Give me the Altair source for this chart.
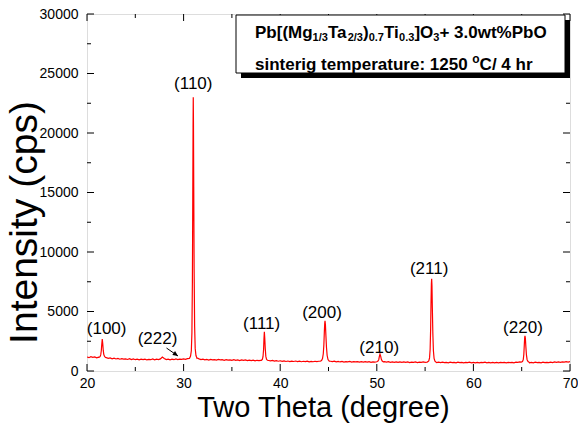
import altair as alt
import pandas as pd

# ---------------------------------------------------------------
# XRD pattern of Pb[(Mg1/3Ta2/3)0.7Ti0.3]O3 + 3.0wt% PbO
# ---------------------------------------------------------------

# background counts, sampled every 0.2 degree from 20.0 to 70.0
baseline_start = 20.0
baseline_step = 0.2
baseline_counts = [
    1180, 1120, 1210, 1150, 1190, 1110, 1170, 1130, 1140, 1090,   # 20
    1120, 1060, 1100, 1030, 1080, 1010, 1060, 990, 1040, 1000,    # 22
    1020, 970, 1040, 960, 1010, 950, 1000, 940, 990, 960,         # 24
    1000, 930, 980, 950, 1010, 940, 990, 960, 1020, 1180,         # 26
    1060, 960, 1000, 940, 990, 950, 1010, 960, 1000, 970,         # 28
    1010, 980, 1040, 1060, 1100, 1200, 1200, 1100, 1020, 960,     # 30
    990, 930, 970, 920, 980, 940, 960, 910, 970, 930,             # 32
    950, 900, 960, 910, 940, 890, 950, 900, 930, 880,             # 34
    940, 890, 930, 870, 920, 880, 910, 860, 900, 870,             # 36
    900, 860, 900, 880, 880, 850, 890, 830, 870, 820,             # 38
    860, 810, 850, 800, 840, 790, 830, 800, 840, 790,             # 40
    830, 780, 820, 790, 830, 770, 810, 780, 820, 790,             # 42
    820, 780, 800, 800, 800, 800, 820, 790, 830, 770,             # 44
    810, 760, 800, 750, 790, 770, 800, 750, 790, 760,             # 46
    790, 740, 780, 750, 790, 740, 780, 730, 770, 740,             # 48
    780, 740, 800, 790, 780, 750, 780, 730, 770, 720,             # 50
    770, 720, 760, 730, 770, 720, 760, 710, 750, 720,             # 52
    760, 710, 750, 720, 760, 720, 750, 730, 760, 760,             # 54
    740, 700, 750, 710, 740, 700, 730, 690, 740, 700,             # 56
    730, 690, 740, 700, 730, 680, 720, 700, 740, 690,             # 58
    730, 690, 720, 680, 730, 700, 740, 690, 720, 680,             # 60
    720, 680, 730, 690, 720, 700, 730, 680, 720, 700,             # 62
    730, 690, 740, 720, 760, 740, 740, 700, 740, 690,             # 64
    730, 690, 740, 700, 730, 690, 740, 700, 730, 700,             # 66
    750, 710, 760, 720, 760, 730, 770, 740, 780, 750,             # 68
    790,                                                          # 70
]

# reflection profiles
peak_100_theta = [21.25, 21.35, 21.42, 21.48, 21.53, 21.58, 21.63, 21.68, 21.74, 21.82, 21.92]
peak_100_counts = [1150, 1200, 1350, 1700, 2250, 2680, 2300, 1750, 1380, 1220, 1130]

peak_110_theta = [30.62, 30.72, 30.80, 30.86, 30.91, 30.95, 30.98, 31.00, 31.02, 31.05,
                  31.09, 31.14, 31.20, 31.28, 31.38]
peak_110_counts = [1080, 1250, 1700, 3200, 7500, 14500, 20500, 23000, 21000, 15500,
                   8500, 3800, 1900, 1300, 1080]

peak_111_theta = [38.05, 38.15, 38.22, 38.28, 38.32, 38.36, 38.40, 38.45, 38.51, 38.58, 38.68]
peak_111_counts = [900, 980, 1200, 1800, 2700, 3300, 2800, 1900, 1250, 990, 900]

peak_200_theta = [44.15, 44.28, 44.38, 44.46, 44.52, 44.57, 44.61, 44.64, 44.68, 44.73,
                  44.79, 44.86, 44.95, 45.08]
peak_200_counts = [820, 880, 1050, 1450, 2200, 3300, 4000, 4220, 3900, 3000,
                   2000, 1300, 960, 830]

peak_210_theta = [50.00, 50.12, 50.20, 50.26, 50.33, 50.40, 50.47, 50.56, 50.68]
peak_210_counts = [780, 830, 950, 1200, 1420, 1250, 980, 830, 770]

peak_211_theta = [55.25, 55.38, 55.46, 55.52, 55.57, 55.61, 55.65, 55.68, 55.71, 55.75,
                  55.80, 55.86, 55.93, 56.02, 56.12]
peak_211_counts = [760, 850, 1100, 1800, 3400, 5600, 7300, 7750, 7200, 5300,
                   3200, 1700, 1050, 820, 750]

peak_220_theta = [64.95, 65.08, 65.16, 65.22, 65.27, 65.31, 65.34, 65.38, 65.43, 65.49,
                  65.56, 65.66, 65.78]
peak_220_counts = [740, 800, 950, 1400, 2200, 2800, 2950, 2750, 2050, 1350,
                   950, 790, 730]

# Miller-index annotations
hkl_text = ["(100)", "(222)", "(110)", "(111)", "(200)", "(210)", "(211)", "(220)"]
hkl_theta = [22.03, 27.30, 31.00, 38.08, 44.33, 50.25, 55.42, 65.13]
hkl_counts = [3570, 2690, 24090, 3970, 4910, 1970, 8580, 3650]

# arrow from the (222) label to its weak reflection
arrow_theta = [28.23, 29.42]
arrow_counts = [1930, 1260]

# axis ticks
x_major = [20, 30, 40, 50, 60, 70]
x_minor = [25, 35, 45, 55, 65]
y_major = [0, 5000, 10000, 15000, 20000, 25000, 30000]
y_minor = [2500, 7500, 12500, 17500, 22500, 27500]

# ---------------------------------------------------------------
peaks = [
    (peak_100_theta, peak_100_counts),
    (peak_110_theta, peak_110_counts),
    (peak_111_theta, peak_111_counts),
    (peak_200_theta, peak_200_counts),
    (peak_210_theta, peak_210_counts),
    (peak_211_theta, peak_211_counts),
    (peak_220_theta, peak_220_counts),
]

rows = []
for i, c in enumerate(baseline_counts):
    t = round(baseline_start + i * baseline_step, 2)
    if any(min(pt) <= t <= max(pt) for pt, _ in peaks):
        continue
    rows.append((t, c))
for pt, pc in peaks:
    rows.extend(zip(pt, pc))
pattern = pd.DataFrame(sorted(rows), columns=["theta", "counts"])

W, H = 483, 357
FONT = "Liberation Sans"

xs = alt.Scale(domain=[20, 70], nice=False, zero=False)
ys = alt.Scale(domain=[0, 30000], nice=False)

X = alt.X("theta:Q", scale=xs)
Y = alt.Y("counts:Q", scale=ys)

line = alt.Chart(pattern).mark_line(color="#ff0000", strokeWidth=1.2, clip=True).encode(x=X, y=Y)

labels = alt.Chart(pd.DataFrame({"theta": hkl_theta, "counts": hkl_counts, "hkl": hkl_text})).mark_text(
    font=FONT, fontSize=17, color="black", align="center", baseline="middle"
).encode(x=X, y=Y, text="hkl:N")

arrow_df = pd.DataFrame({"theta": arrow_theta, "counts": arrow_counts})
arrow_line = alt.Chart(arrow_df).mark_line(color="black", strokeWidth=1).encode(x=X, y=Y)
arrow_head = alt.Chart(arrow_df.tail(1)).mark_point(
    shape="M0,0L-1,-0.45L-1,0.45Z", filled=True, color="black", opacity=1, size=110, angle=35
).encode(x=X, y=Y)


def tick_layer(values, side, length):
    df = pd.DataFrame({"theta": values} if side in ("bottom", "top") else {"counts": values})
    mark = alt.Chart(df).mark_rule(color="black", strokeWidth=1)
    if side == "bottom":
        return mark.encode(x=X, y=alt.value(H), y2=alt.value(H - length))
    if side == "top":
        return mark.encode(x=X, y=alt.value(0), y2=alt.value(length))
    if side == "left":
        return mark.encode(y=Y, x=alt.value(0), x2=alt.value(length))
    return mark.encode(y=Y, x=alt.value(W), x2=alt.value(W - length))


ticks = [
    tick_layer(x_major, "bottom", 7), tick_layer(x_minor, "bottom", 4),
    tick_layer(x_major, "top", 7), tick_layer(x_minor, "top", 4),
    tick_layer(y_major, "left", 7), tick_layer(y_minor, "left", 4),
    tick_layer(y_major, "right", 7), tick_layer(y_minor, "right", 4),
]

one = pd.DataFrame({"k": [0]})
# caption box with a drop shadow (pixel offsets from the plot origin)
shadow = alt.Chart(one).mark_rect(color="black").encode(
    x=alt.value(154), x2=alt.value(483), y=alt.value(6), y2=alt.value(64)
)
box = alt.Chart(one).mark_rect(fill="white", stroke="black", strokeWidth=1).encode(
    x=alt.value(149), x2=alt.value(478), y=alt.value(1), y2=alt.value(59)
)

# caption pieces: text, x, baseline y, font size
caption = [
    ("Pb[(Mg", 168.0, 24, 17),
    ("1/3", 225.6, 27, 11),
    ("Ta", 240.9, 24, 17),
    ("2/3", 260.7, 27, 11),
    (")", 276.0, 24, 17),
    ("0.7", 281.7, 27, 11),
    ("Ti", 297.0, 24, 17),
    ("0.3", 312.1, 27, 11),
    ("]O", 327.4, 24, 17),
    ("3", 346.3, 27, 11),
    ("+ 3.0wt%PbO", 352.4, 24, 17),
    ("sinterig temperature: 1250 ", 168.0, 56, 17),
    ("o", 385.3, 49, 12),
    ("C/ 4 hr", 392.6, 56, 17),
]
caption_layers = [
    alt.Chart(one).mark_text(
        text=t, font=FONT, fontSize=s, fontWeight="bold", color="black",
        align="left", baseline="alphabetic"
    ).encode(x=alt.value(px), y=alt.value(py))
    for t, px, py, s in caption
]

chart = alt.layer(
    line, *ticks, labels, arrow_line, arrow_head, shadow, box, *caption_layers
).encode(
    x=alt.X("theta:Q", scale=xs, axis=alt.Axis(
        values=x_major, ticks=False, domain=False, grid=False, labelFlush=False,
        labelFont=FONT, labelFontSize=14, labelColor="black", labelPadding=5,
        title="Two Theta (degree)", titleFont=FONT, titleFontSize=29,
        titleFontWeight="normal", titleColor="black",
        titleX=236, titleY=36, titleBaseline="middle",
    )),
    y=alt.Y("counts:Q", scale=ys, axis=alt.Axis(
        values=y_major, format="d", ticks=False, domain=False, grid=False, labelFlush=False,
        labelFont=FONT, labelFontSize=14, labelColor="black", labelPadding=9,
        title="Intensity (cps)", titleFont=FONT, titleFontSize=39,
        titleFontWeight="normal", titleColor="black",
        titleX=-51, titleY=208, titleBaseline="alphabetic", titleAngle=-90,
    )),
).properties(
    width=W, height=H,
    autosize=alt.AutoSizeParams(type="none"),
    padding={"left": 87, "top": 14, "right": 8, "bottom": 52},
).configure_view(stroke="black", strokeWidth=1).configure(background="white")

chart.save("out.html", embed_options={"renderer": "svg", "actions": False})
